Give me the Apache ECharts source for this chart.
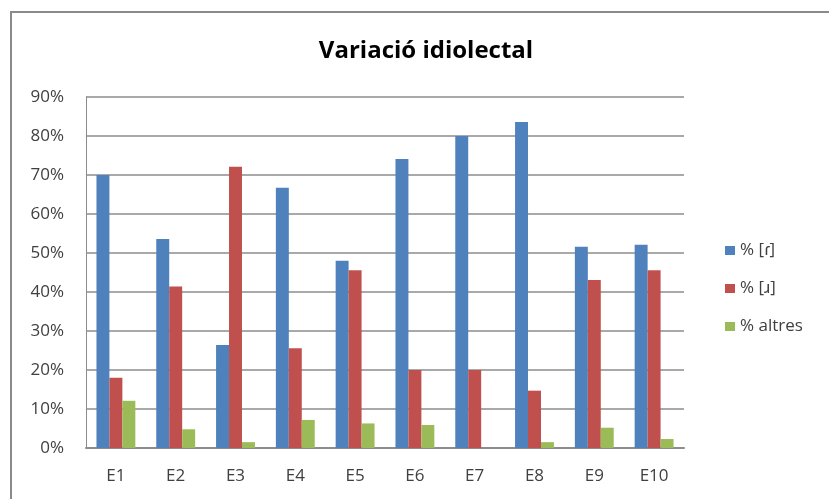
<!DOCTYPE html>
<html>
<head>
<meta charset="utf-8">
<script src="https://cdn.jsdelivr.net/npm/echarts@6/dist/echarts.min.js"></script>
<style>
  html, body { margin: 0; padding: 0; background: #fff; }
  #frame {
    position: absolute; left: 10px; top: 11px; width: 829px; height: 499px;
    border-left: 2px solid #8a8a8a; border-top: 2px solid #8a8a8a;
  }
  #chart { position: absolute; left: 0; top: 0; width: 829px; height: 499px; }
</style>
</head>
<body>
<div id="frame"></div>
<div id="chart"></div>
<script>
const categories = ['E1', 'E2', 'E3', 'E4', 'E5', 'E6', 'E7', 'E8', 'E9', 'E10'];
const seriesNames = ['% [ɾ]', '% [ɹ]', '% altres'];
const tapValues = [70.0, 53.6, 26.4, 66.7, 48.0, 74.1, 80.0, 83.6, 51.6, 52.1];
const approxValues = [18.0, 41.4, 72.1, 25.6, 45.6, 20.0, 20.0, 14.7, 43.1, 45.6];
const otherValues = [12.1, 4.8, 1.5, 7.2, 6.3, 5.9, 0, 1.5, 5.2, 2.3];

const font = '"Open Sans", Lato, sans-serif';
const colors = ['#4f81bd', '#c0504d', '#9bbb59'];

let myChart = echarts.init(document.getElementById('chart'));

const makeBar = (name, data, i) => {
  return {
    name: name,
    type: 'bar',
    data: data,
    barGap: '0%',
    barCategoryGap: '35%',
    itemStyle: { color: colors[i] }
  }
}

let option = {
  animation: false,
  title: {
    text: 'Variació idiolectal',
    left: 421,
    textAlign: 'center',
    top: 34,
    textStyle: { fontFamily: font, fontSize: 24, fontWeight: 'bold', color: '#000' }
  },
  legend: {
    orient: 'vertical',
    left: 720,
    top: 237,
    itemWidth: 10,
    itemHeight: 9,
    itemGap: 21,
    icon: 'rect',
    textStyle: { fontFamily: font, fontSize: 17, color: '#404040' },
    data: seriesNames
  },
  grid: {
    left: 86,
    right: 145,
    top: 97,
    bottom: 51
  },
  xAxis: {
    type: 'category',
    data: categories,
    axisTick: { show: false },
    axisLine: { lineStyle: { color: '#8c8c8c', width: 2 } },
    axisLabel: { margin: 20, fontFamily: font, fontSize: 17, color: '#404040' }
  },
  yAxis: {
    type: 'value',
    min: 0,
    max: 90,
    interval: 10,
    axisLine: { show: true, lineStyle: { color: '#8c8c8c', width: 1 } },
    axisTick: { show: false },
    splitLine: { lineStyle: { color: '#8c8c8c', width: 1.5 } },
    axisLabel: { margin: 22, fontFamily: font, fontSize: 17, color: '#404040', formatter: '{value}%' }
  },
  series: [
    makeBar(seriesNames[0], tapValues, 0),
    makeBar(seriesNames[1], approxValues, 1),
    makeBar(seriesNames[2], otherValues, 2)
  ]
}

option && myChart.setOption(option);
</script>
</body>
</html>
